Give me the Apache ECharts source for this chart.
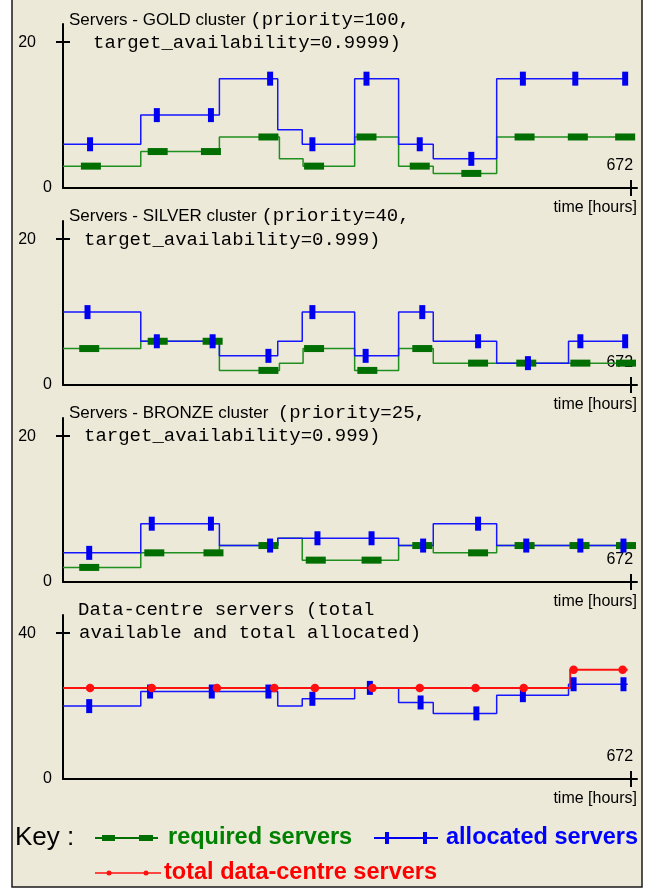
<!DOCTYPE html>
<html><head><meta charset="utf-8">
<script src="https://cdn.jsdelivr.net/npm/echarts@6/dist/echarts.min.js"></script>
<style>html,body{margin:0;padding:0;background:#fff}#c{width:654px;height:890px}</style>
</head><body><div id="c"></div>
<script>
// ---------------- DATA ----------------
const timeEndTick = 672;               // hours
const serverTicks = [0, 20];
const totalTicks = [0, 40];

// GOLD cluster
const goldRequiredSteps  = [[0,3],[92,5],[185,7],[256,4],[284,3],[345,7],[397,3],[438,2],[513,7],[668,7]];
const goldRequiredMarks  = [[33,3],[112,5],[175,5],[243,7],[297,3],[359,7],[422,3],[483,2],[546,7],[609,7],[665,7]];
const goldAllocatedSteps = [[0,6],[92,10],[185,15],[254,8],[283,6],[345,15],[397,6],[438,4],[513,15],[668,15]];
const goldAllocatedMarks = [[32,6],[111,10],[175,10],[245,15],[295,6],[359,15],[422,6],[483,4],[544,15],[606,15],[665,15]];

// SILVER cluster
const silverRequiredSteps  = [[0,5],[92,6],[185,2],[256,3],[284,5],[345,2],[397,5],[438,3],[668,3]];
const silverRequiredMarks  = [[31,5],[112,6],[177,6],[243,2],[297,5],[360,2],[425,5],[491,3],[548,3],[612,3],[666,3]];
const silverAllocatedSteps = [[0,10],[92,6],[185,4],[254,6],[283,10],[345,4],[397,10],[438,6],[513,3],[598,6],[668,6]];
const silverAllocatedMarks = [[29,10],[111,6],[177,6],[243,4],[295,10],[358,4],[425,10],[491,6],[550,3],[612,6],[665,6]];

// BRONZE cluster
const bronzeRequiredSteps  = [[0,2],[92,4],[185,5],[254,6],[283,3],[397,5],[438,4],[513,5],[668,5]];
const bronzeRequiredMarks  = [[31,2],[108,4],[178,4],[243,5],[299,3],[365,3],[425,5],[491,4],[546,5],[611,5],[666,5]];
const bronzeAllocatedSteps = [[0,4],[92,8],[185,5],[254,6],[397,5],[438,8],[513,5],[668,5]];
const bronzeAllocatedMarks = [[31,4],[105,8],[175,8],[245,5],[301,6],[365,6],[426,5],[491,8],[548,5],[612,5],[663,5]];

// Data-centre totals
const dcAllocatedSteps = [[0,20],[92,24],[254,20],[283,22],[345,25],[397,21],[438,18],[513,23],[598,26],[668,26]];
const dcAllocatedMarks = [[31,20],[103,24],[176,24],[243,24],[295,22],[363,25],[423,21],[489,18],[544,23],[604,26],[663,26]];
const dcTotalSteps = [[0,25],[600,30],[668,30]];
const dcTotalMarks = [[32,25],[105,25],[182,25],[250,25],[298,25],[366,25],[422,25],[488,25],[545,25],[604,30],[662,30]];

// Texts
const panelTitles = [
  ['Servers - GOLD cluster ', '(priority=100,', 'target_availability=0.9999)'],
  ['Servers - SILVER cluster ', '(priority=40,', 'target_availability=0.999)'],
  ['Servers - BRONZE cluster  ', '(priority=25,', 'target_availability=0.999)'],
  ['', 'Data-centre servers (total', 'available and total allocated)']
];
const xName = 'time [hours]';
const keyLabels = ['Key :', 'required servers', 'allocated servers', 'total data-centre servers'];

// ---------------- STYLE / LAYOUT ----------------
const SANS = '"Liberation Sans", Arial, sans-serif';
const MONO = '"Liberation Mono", "Courier New", monospace';
const GREEN_LINE = '#1f8f1f', GREEN_MARK = '#006e00';
const BLUE_LINE = '#1515ff', BLUE_MARK = '#0000f0';
const RED = '#ff1010';
const gridTops = [24, 221, 418, 615];
const GRID_H = 164, GRID_LEFT = 63, GRID_W = 574;
const X_MAX = 679;
const title1Left = [69, 69, 69, 78];
const title2Left = [93, 84, 84, 79];
const title1Y = [20, 216, 413, 610];
const title2Y = [43, 240, 436, 633];

const panels = [
  {ticks: serverTicks, yMax: 22.5, req: goldRequiredSteps, reqM: goldRequiredMarks, alloc: goldAllocatedSteps, allocM: goldAllocatedMarks},
  {ticks: serverTicks, yMax: 22.5, req: silverRequiredSteps, reqM: silverRequiredMarks, alloc: silverAllocatedSteps, allocM: silverAllocatedMarks},
  {ticks: serverTicks, yMax: 22.5, req: bronzeRequiredSteps, reqM: bronzeRequiredMarks, alloc: bronzeAllocatedSteps, allocM: bronzeAllocatedMarks},
  {ticks: totalTicks, yMax: 45, alloc: dcAllocatedSteps, allocM: dcAllocatedMarks, total: dcTotalSteps, totalM: dcTotalMarks}
];

const axisLineStyle = {color: '#000', width: 2};
const labelStyle = {color: '#000', fontFamily: SANS, fontSize: 16};

const grid = [], xAxis = [], yAxis = [], series = [];
panels.forEach((p, i) => {
  grid.push({left: GRID_LEFT, top: gridTops[i], width: GRID_W, height: GRID_H});
  xAxis.push({
    type: 'value', gridIndex: i, min: 0, max: X_MAX, position: 'bottom',
    axisLine: {show: true, onZero: false, lineStyle: axisLineStyle},
    axisTick: {show: true, customValues: [timeEndTick], length: 8, lineStyle: axisLineStyle},
    axisLabel: Object.assign({customValues: [timeEndTick], inside: true, margin: 22, align: 'right', verticalAlign: 'middle', padding: [0, -2, 0, 0]}, labelStyle),
    splitLine: {show: false},
    name: xName, nameLocation: 'end', nameGap: 0,
    nameTextStyle: Object.assign({align: 'right', verticalAlign: 'top', padding: [12, 0, 0, 0]}, labelStyle)
  });
  xAxis.push({
    type: 'value', gridIndex: i, min: 0, max: X_MAX, position: 'bottom',
    axisLine: {show: false, onZero: false},
    axisTick: {show: true, inside: true, customValues: [timeEndTick], length: 8, lineStyle: axisLineStyle},
    axisLabel: {show: false}, splitLine: {show: false}
  });
  yAxis.push({
    type: 'value', gridIndex: i, min: 0, max: p.yMax, position: 'left',
    axisLine: {show: true, onZero: false, lineStyle: axisLineStyle},
    axisTick: {show: true, customValues: [p.ticks[1]], length: 7, lineStyle: axisLineStyle},
    axisLabel: Object.assign({customValues: [p.ticks[0]], margin: 11, padding: [3, 0, 0, 0]}, labelStyle),
    splitLine: {show: false}
  });
  yAxis.push({
    type: 'value', gridIndex: i, min: 0, max: p.yMax, position: 'left',
    axisLine: {show: false, onZero: false},
    axisTick: {show: true, inside: true, customValues: [p.ticks[1]], length: 7, lineStyle: axisLineStyle},
    axisLabel: Object.assign({customValues: [p.ticks[1]], margin: 27}, labelStyle),
    splitLine: {show: false}
  });
  const xi = 2 * i, yi = 2 * i;
  const stepLine = (data, color, w) => ({type: 'line', step: 'end', xAxisIndex: xi, yAxisIndex: yi, data,
    showSymbol: false, symbol: 'none', lineStyle: {color, width: w}, silent: true, z: 2});
  const marks = (data, symbol, size, color) => ({type: 'scatter', xAxisIndex: xi, yAxisIndex: yi, data,
    symbol, symbolSize: size, itemStyle: {color, opacity: 1}, silent: true, z: 3});
  if (p.req) {
    series.push(stepLine(p.req, GREEN_LINE, 1.5));
    series.push(stepLine(p.alloc, BLUE_LINE, 1.5));
    series.push(marks(p.reqM, 'rect', [20, 7], GREEN_MARK));
    series.push(marks(p.allocM, 'rect', [6, 14], BLUE_MARK));
  } else {
    series.push(stepLine(p.alloc, BLUE_LINE, 1.5));
    series.push(stepLine(p.total, RED, 2));
    series.push(marks(p.allocM, 'rect', [6, 14], BLUE_MARK));
    series.push(marks(p.totalM, 'circle', 8.5, RED));
  }
});

// ---------------- GRAPHICS (frame, titles, key) ----------------
const graphic = [
  {type: 'rect', z: -10, shape: {x: 12, y: -2, width: 630, height: 889}, style: {fill: '#ece9d8', stroke: '#1a1a1a', lineWidth: 1.5}}
];
panelTitles.forEach((t, i) => {
  const rich = {s: {fontFamily: SANS, fontSize: 17, fill: '#000'}, m: {fontFamily: MONO, fontSize: 19, fill: '#000'}};
  const line1 = (t[0] ? '{s|' + t[0] + '}' : '') + '{m|' + t[1] + '}';
  graphic.push({type: 'text', z: 5, x: title1Left[i], y: title1Y[i], style: {text: line1, rich, verticalAlign: 'middle'}});
  graphic.push({type: 'text', z: 5, x: title2Left[i], y: title2Y[i], style: {text: '{m|' + t[2] + '}', rich, verticalAlign: 'middle'}});
});
// Key
const keyY1 = 838, keyY2 = 873;
graphic.push({type: 'text', x: 15, y: keyY1, style: {text: keyLabels[0], fontFamily: SANS, fontSize: 26, fill: '#000', verticalAlign: 'middle'}});
graphic.push({type: 'line', shape: {x1: 95, y1: keyY1, x2: 158, y2: keyY1}, style: {stroke: GREEN_MARK, lineWidth: 2}});
graphic.push({type: 'rect', shape: {x: 102, y: keyY1 - 3, width: 13, height: 6}, style: {fill: GREEN_MARK}});
graphic.push({type: 'rect', shape: {x: 139, y: keyY1 - 3, width: 14, height: 6}, style: {fill: GREEN_MARK}});
graphic.push({type: 'text', x: 168, y: keyY1, style: {text: keyLabels[1], fontFamily: SANS, fontWeight: 'bold', fontSize: 23.5, fill: '#008000', verticalAlign: 'middle'}});
graphic.push({type: 'line', shape: {x1: 374, y1: keyY1, x2: 438, y2: keyY1}, style: {stroke: BLUE_MARK, lineWidth: 2}});
graphic.push({type: 'rect', shape: {x: 385, y: keyY1 - 6, width: 4, height: 12}, style: {fill: BLUE_MARK}});
graphic.push({type: 'rect', shape: {x: 423, y: keyY1 - 6, width: 4, height: 12}, style: {fill: BLUE_MARK}});
graphic.push({type: 'text', x: 446, y: keyY1, style: {text: keyLabels[2], fontFamily: SANS, fontWeight: 'bold', fontSize: 23.5, fill: '#0000ff', verticalAlign: 'middle'}});
graphic.push({type: 'line', shape: {x1: 95, y1: keyY2, x2: 161, y2: keyY2}, style: {stroke: RED, lineWidth: 1.5}});
graphic.push({type: 'circle', shape: {cx: 109, cy: keyY2, r: 2.5}, style: {fill: RED}});
graphic.push({type: 'circle', shape: {cx: 146, cy: keyY2, r: 2.5}, style: {fill: RED}});
graphic.push({type: 'text', x: 164, y: keyY2, style: {text: keyLabels[3], fontFamily: SANS, fontWeight: 'bold', fontSize: 23.5, fill: '#ff0000', verticalAlign: 'middle'}});

const chart = echarts.init(document.getElementById('c'), null, {renderer: 'canvas'});
chart.setOption({
  backgroundColor: '#ffffff',
  animation: false,
  grid, xAxis, yAxis, series, graphic
});
</script></body></html>
